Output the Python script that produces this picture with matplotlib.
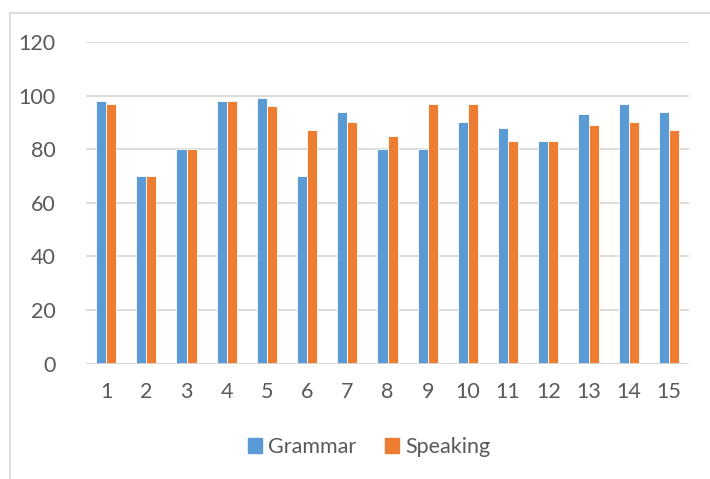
import numpy as np
import matplotlib
matplotlib.use('Agg')
import matplotlib.pyplot as plt
from matplotlib.lines import Line2D
from matplotlib.patches import Patch

plt.rcParams['font.family'] = ['Lato', 'DejaVu Sans']

categories = [str(i) for i in range(1, 16)]
grammar = [98, 70, 80, 98, 99, 70, 94, 80, 80, 90, 88, 83, 93, 97, 94]
speaking = [97, 70, 80, 98, 96, 87, 90, 85, 97, 97, 83, 83, 89, 90, 87]
yticks = [0, 20, 40, 60, 80, 100, 120]

blue = '#5B9BD5'
orange = '#ED7D31'
txt = '#595959'
grid = '#D9D9D9'

W, H = 710, 479
fig = plt.figure(figsize=(W / 100, H / 100), dpi=100)
ax = fig.add_axes([86 / W, 1 - 363.5 / H, (689 - 86) / W, (363.5 - 42) / H])

x = np.arange(len(categories))
bw = 0.25
ax.bar(x - bw / 2, grammar, bw, color=blue, edgecolor='white', lw=0.6,
       zorder=3)
ax.bar(x + bw / 2, speaking, bw, color=orange, edgecolor='white', lw=0.6,
       zorder=3)

ax.set_xlim(-0.5, len(categories) - 0.5)
ax.set_ylim(0, 120)
ax.set_yticks(yticks)
ax.set_xticks(x)
ax.set_xticklabels(categories)
ax.yaxis.grid(True, color=grid, lw=1.3, zorder=0)
for s in ax.spines:
    ax.spines[s].set_visible(False)
ax.axhline(0, color=grid, lw=1.3, zorder=4)
ax.tick_params(axis='both', length=0, colors=txt, labelsize=15.5)
ax.tick_params(axis='y', pad=22)
ax.tick_params(axis='x', pad=13)

# chart frame (only left and top edges visible in the crop)
fig.add_artist(Line2D([10 / W, 10 / W], [0, 1 - 13 / H], color=grid,
                      lw=1.3, transform=fig.transFigure))
fig.add_artist(Line2D([10 / W, 1], [1 - 13 / H, 1 - 13 / H], color=grid,
                      lw=1.3, transform=fig.transFigure))

handles = [Patch(color=blue, label='Grammar'),
           Patch(color=orange, label='Speaking')]
fig.legend(handles=handles, loc='center', bbox_to_anchor=(369 / W, 1 - 447 / H),
           ncol=2, frameon=False, fontsize=15.5, labelcolor=txt,
           handlelength=0.65, handleheight=0.65, handletextpad=0.3,
           columnspacing=1.3)

fig.savefig('out.png', dpi=100)
